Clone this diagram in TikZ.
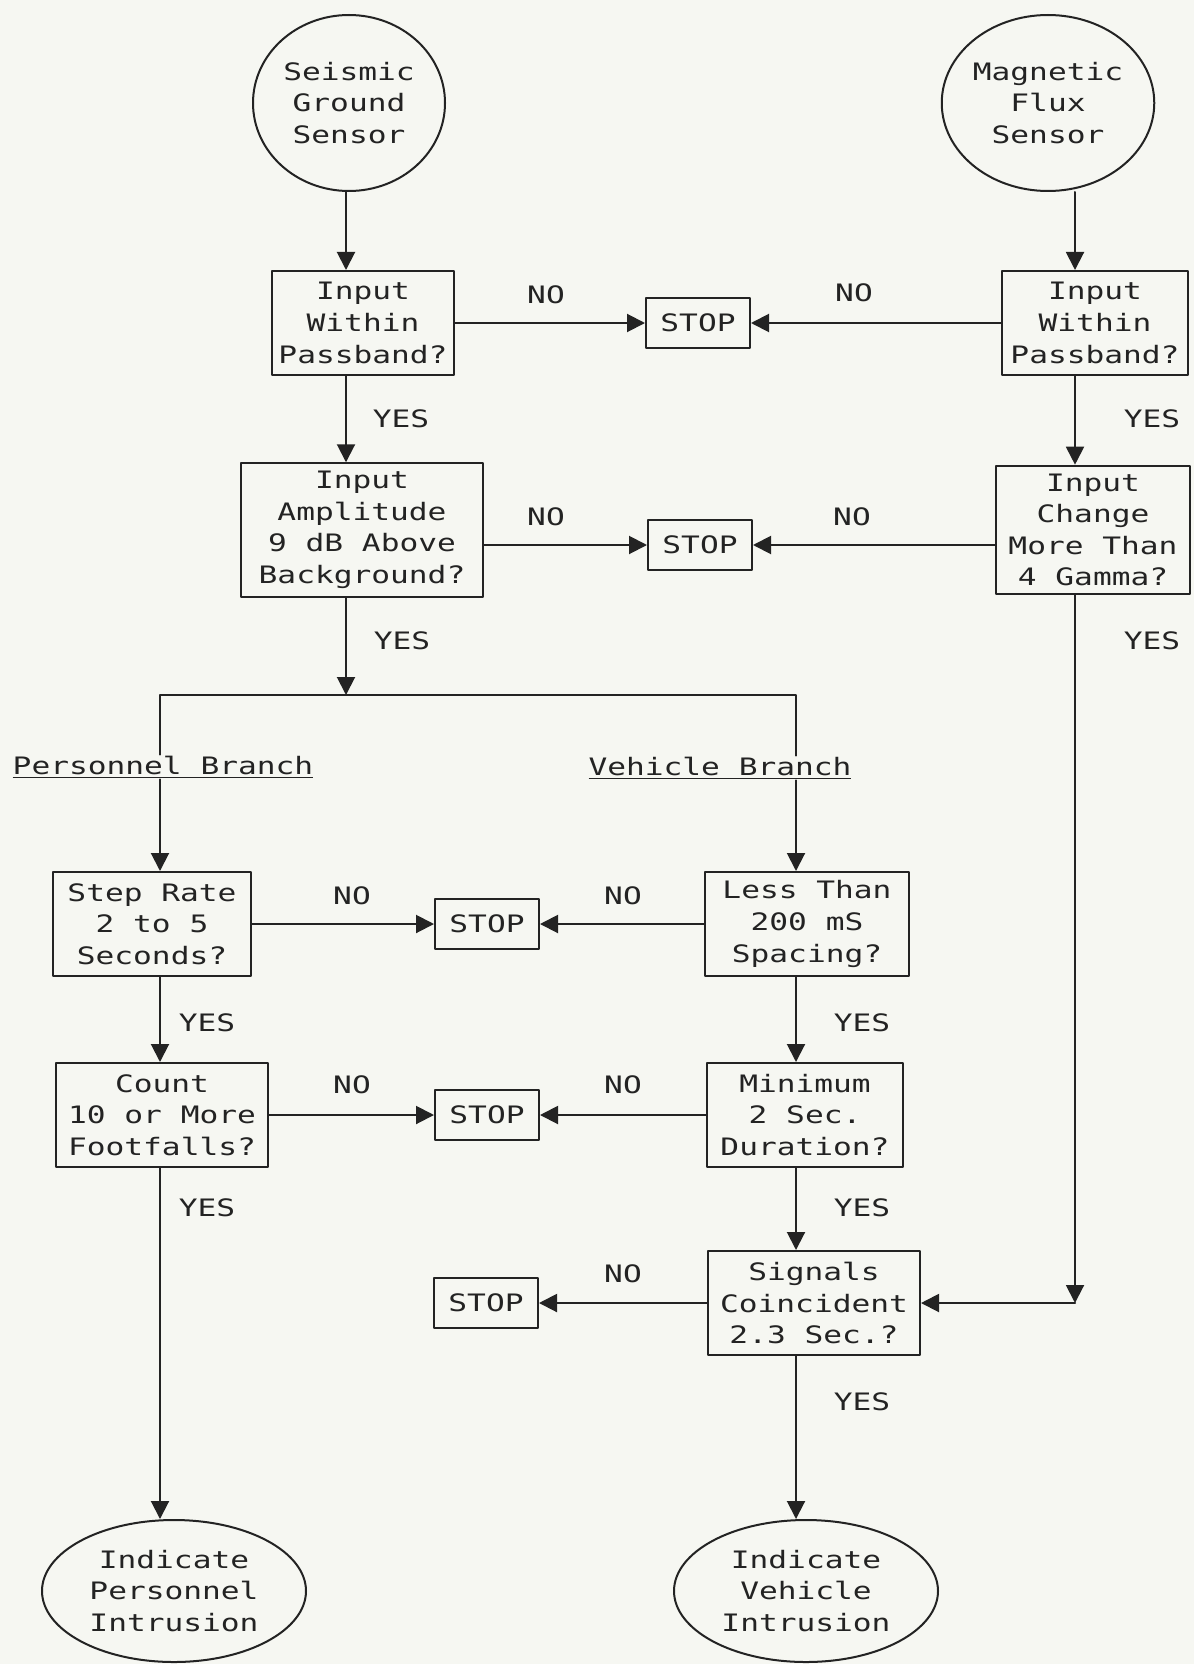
\documentclass[tikz,border=0pt]{standalone}
\usepackage{fontspec}
\setmainfont{DejaVu Sans Mono}[FakeStretch=1.3]
\usetikzlibrary{arrows.meta,shapes.geometric}
\definecolor{paper}{RGB}{246,247,242}
\definecolor{ink}{RGB}{35,35,35}

\begin{document}
\begin{tikzpicture}[x=0.5pt,y=-0.5pt,line width=1pt,line cap=round,line join=round,
  draw=ink,text=ink,font=\fontsize{12}{15.8}\selectfont,
  box/.style={draw,align=center,inner xsep=3pt,inner ysep=4pt,minimum height=52pt},
  stopbox/.style={draw,minimum width=52pt,minimum height=25pt,inner sep=0pt},
  sensor/.style={draw,ellipse,align=center,minimum width=96pt,minimum height=88pt,inner sep=0pt},
  result/.style={draw,ellipse,align=center,minimum width=132pt,minimum height=71pt,inner sep=0pt},
  lbl/.style={inner sep=0pt},
  arr/.style={-{Triangle[length=9pt,width=9pt]}}]
\fill[paper] (0,0) rectangle (1194,1664);
\useasboundingbox (0,0) rectangle (1194,1664);

% ---- columns the connectors run in ----
\coordinate (cs) at (346,0);
\coordinate (cm) at (1075,0);
\coordinate (cp) at (160,0);
\coordinate (cv) at (796,0);
\coordinate (split) at (346,695);

% ---- sensors ----
\node[sensor] (seis) at (349,103) {Seismic\\Ground\\Sensor};
\node[sensor] (mag) at (1048,103) {Magnetic\\Flux\\Sensor};

% ---- passband and level checks ----
\node[box,minimum width=91pt] (pass1) at (363,323) {Input\\Within\\Passband?};
\node[stopbox] (stop1) at (698,323) {STOP};
\node[box,minimum width=93pt] (pass2) at (1095,323) {Input\\Within\\Passband?};

\node[box,minimum width=121pt] (ampl) at (362,530) {Input\\Amplitude\\9 dB Above\\Background?};
\node[stopbox] (stop2) at (700,545) {STOP};
\node[box,minimum width=97pt] (gamma) at (1093,530) {Input\\Change\\More Than\\4 Gamma?};

% ---- branch titles ----
\node[lbl] (pbr) at (163,767) {\underline{Personnel Branch}};
\node[lbl] (vbr) at (720,768) {\underline{Vehicle Branch}};

% ---- personnel / vehicle tests ----
\node[box,minimum width=99pt] (rate) at (152,924) {Step Rate\\2 to 5\\Seconds?};
\node[stopbox] (stop3) at (487,924) {STOP};
\node[box,minimum width=102pt] (space) at (807,924) {Less Than\\200 mS\\Spacing?};

\node[box,minimum width=106pt] (count) at (162,1115) {Count\\10 or More\\Footfalls?};
\node[stopbox] (stop4) at (487,1115) {STOP};
\node[box,minimum width=98pt] (dur) at (805,1115) {Minimum\\2 Sec.\\Duration?};

\node[stopbox] (stop5) at (486,1303) {STOP};
\node[box,minimum width=106pt] (coin) at (814,1303) {Signals\\Coincident\\2.3 Sec.?};

% ---- outcomes ----
\node[result] (pers) at (174,1591) {Indicate\\Personnel\\Intrusion};
\node[result] (veh) at (806,1591) {Indicate\\Vehicle\\Intrusion};

% ---- seismic chain ----
\draw[arr] (seis.south -| cs) -- (pass1.north -| cs);
\draw[arr] (pass1.south -| cs) -- (ampl.north -| cs);
\draw[arr] (ampl.south -| cs) -- (split);
\draw (pbr.north -| cp) -- (cp |- split) -- (cv |- split) -- (vbr.north -| cv);
\draw[arr] (pbr.south -| cp) -- (rate.north -| cp);
\draw[arr] (rate.south -| cp) -- (count.north -| cp);
\draw[arr] (count.south -| cp) -- (pers.north -| cp);
\draw[arr] (vbr.south -| cv) -- (space.north -| cv);
\draw[arr] (space.south -| cv) -- (dur.north -| cv);
\draw[arr] (dur.south -| cv) -- (coin.north -| cv);
\draw[arr] (coin.south -| cv) -- (veh.north -| cv);

% ---- magnetic chain ----
\draw[arr] (mag.south -| cm) -- (pass2.north -| cm);
\draw[arr] (pass2.south -| cm) -- (gamma.north -| cm);
\draw[arr] (gamma.south -| cm) -- (cm |- coin);
\draw[arr] (cm |- coin) -- (coin.east);

% ---- NO exits ----
\draw[arr] (pass1.east) -- (stop1.west);
\draw[arr] (pass2.west) -- (stop1.east);
\draw[arr] (ampl.east |- stop2) -- (stop2.west);
\draw[arr] (gamma.west |- stop2) -- (stop2.east);
\draw[arr] (rate.east) -- (stop3.west);
\draw[arr] (space.west) -- (stop3.east);
\draw[arr] (count.east) -- (stop4.west);
\draw[arr] (dur.west) -- (stop4.east);
\draw[arr] (coin.west) -- (stop5.east);

% ---- answers ----
\node[lbl] (no1) at (546,295) {NO};
\node[lbl] (no2) at (854,293) {NO};
\node[lbl] (yes1) at (401,419) {YES};
\node[lbl] (yes2) at (1152,419) {YES};
\node[lbl] (no3) at (546,517) {NO};
\node[lbl] (no4) at (852,517) {NO};
\node[lbl] (yes3) at (402,641) {YES};
\node[lbl] (yes4) at (1152,641) {YES};
\node[lbl] (no5) at (352,896) {NO};
\node[lbl] (no6) at (623,896) {NO};
\node[lbl] (yes5) at (207,1023) {YES};
\node[lbl] (yes6) at (862,1023) {YES};
\node[lbl] (no7) at (352,1085) {NO};
\node[lbl] (no8) at (623,1085) {NO};
\node[lbl] (yes7) at (207,1208) {YES};
\node[lbl] (yes8) at (862,1208) {YES};
\node[lbl] (no9) at (623,1274) {NO};
\node[lbl] (yes9) at (862,1402) {YES};
\end{tikzpicture}
\end{document}
